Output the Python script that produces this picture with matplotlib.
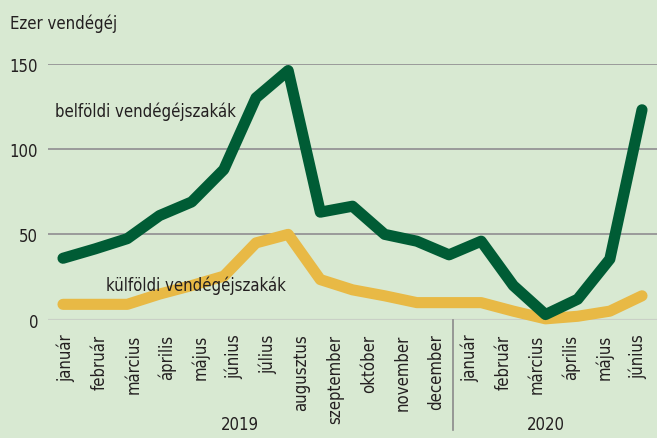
import numpy as np
import matplotlib.pyplot as plt
from matplotlib.transforms import blended_transform_factory

# adatok (ezer vendégéjszaka)
belfoldi = [36, 41.5, 47.5, 61, 69, 88, 130, 146, 63, 66.5, 50, 46, 38, 46, 20, 3, 12, 35.5, 123]
kulfoldi = [9, 9, 9, 15, 20, 25.5, 45, 50, 23.5, 17.5, 14, 10, 10, 10, 5, 0.5, 2, 5, 14]
honapok = ['január', 'február', 'március', 'április', 'május', 'június',
           'július', 'augusztus', 'szeptember', 'október', 'november', 'december',
           'január', 'február', 'március', 'április', 'május', 'június']
evek = ['2019', '2020']
y_ticks = [0, 50, 100, 150]

BG = '#d8e9d2'
GREEN = '#005c35'
YELLOW = '#e8b945'
TXT = '#231f20'

plt.rcParams['font.family'] = ['DejaVu Sans']
plt.rcParams['font.stretch'] = 'condensed'
FS = 12

fig = plt.figure(figsize=(6.57, 4.39), dpi=100, facecolor=BG)
ax = fig.add_axes([48 / 657, 0.2695, 1 - 48 / 657, 0.5831])
ax.set_facecolor(BG)

x = np.arange(len(belfoldi))
ax.plot(x, kulfoldi, color=YELLOW, lw=8, solid_capstyle='round',
        solid_joinstyle='round', clip_on=False, zorder=3)
ax.plot(x, belfoldi, color=GREEN, lw=8, solid_capstyle='round',
        solid_joinstyle='round', clip_on=False, zorder=4)

ax.set_xlim(-0.466, 18.466)
ax.set_ylim(0, 150)

# rács
for v in y_ticks[1:]:
    ax.axhline(v, color='#9a9a9a', lw=1.4, zorder=1)
ax.axhline(0, color='#c9d0c6', lw=1.6, zorder=1)

for s in ax.spines.values():
    s.set_visible(False)

ax.set_yticks(y_ticks)
ax.set_yticklabels([str(v) for v in y_ticks], fontsize=FS, color=TXT)
ax.tick_params(axis='y', length=0, pad=7)

# honapnevek - a cimkek kicsit mas lepeskozzel allnak mint a pontok
tick_pos = np.linspace(0.09, 17.87, len(honapok))
ax.set_xticks(tick_pos)
ax.set_xticklabels(honapok, rotation=90, fontsize=FS, color=TXT)
ax.tick_params(axis='x', length=0, pad=10)

tr = blended_transform_factory(ax.transData, fig.transFigure)
ax.text(5.5, 1 - 425 / 439, evek[0], transform=tr, ha='center', va='center',
        fontsize=FS, color=TXT)
ax.text(15, 1 - 425 / 439, evek[1], transform=tr, ha='center', va='center',
        fontsize=FS, color=TXT)
sep = (tick_pos[11] + tick_pos[12]) / 2
ax.plot([sep, sep], [0.2695, 1 - 431 / 439], transform=tr, color='#8a8a8a',
        lw=1.2, clip_on=False)

ax.text(-0.25, 122.5, 'belföldi vendégéjszakák', ha='left', va='center',
        fontsize=FS, color=TXT, zorder=5)
ax.text(1.34, 20.5, 'külföldi vendégéjszakák', ha='left', va='center',
        fontsize=FS, color=TXT, zorder=5)

fig.text(10 / 657, 1 - 24 / 439, 'Ezer vendégéj', ha='left', va='center',
         fontsize=FS, color=TXT)

fig.savefig('out.png', dpi=100, facecolor=BG)
